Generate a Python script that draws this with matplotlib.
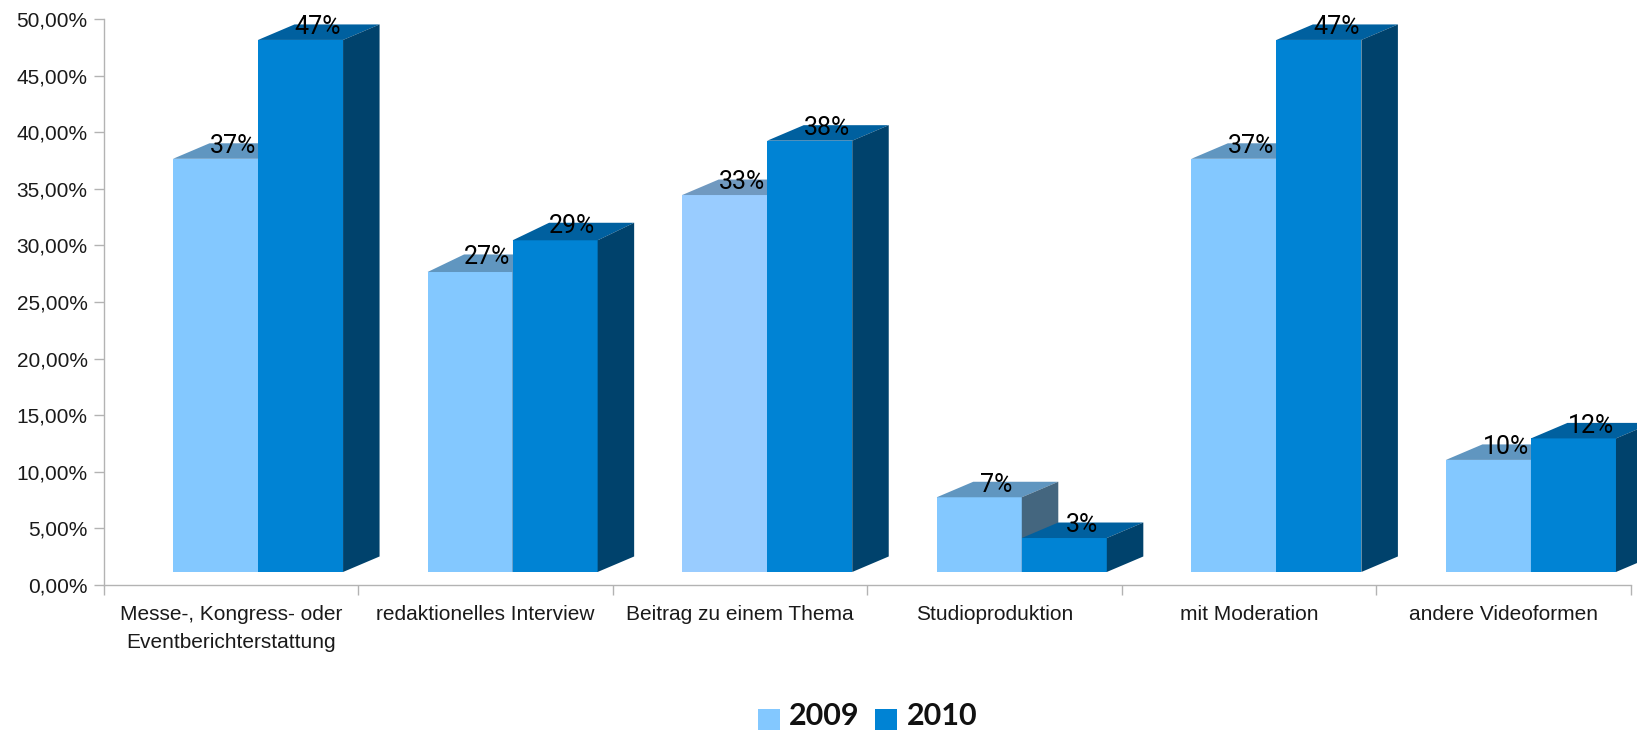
import matplotlib
matplotlib.use('Agg')
import matplotlib.pyplot as plt
from matplotlib.patches import Polygon, Rectangle

categories = ['Messe-, Kongress- oder\nEventberichterstattung', 'redaktionelles Interview',
              'Beitrag zu einem Thema', 'Studioproduktion', 'mit Moderation', 'andere Videoformen']
values_2009 = [36.5, 26.5, 33.3, 6.6, 36.5, 9.9]
values_2010 = [47.0, 29.3, 38.1, 3.0, 47.0, 11.8]
labels_2009 = ['37%', '27%', '33%', '7%', '37%', '10%']
labels_2010 = ['47%', '29%', '38%', '3%', '47%', '12%']
y_ticks = [0, 5, 10, 15, 20, 25, 30, 35, 40, 45, 50]

# the third light bar is a slightly different blue in the original
front_2009 = ['#83c8ff', '#83c8ff', '#99ccff', '#83c8ff', '#83c8ff', '#83c8ff']
top_2009 = ['#6096c0', '#6096c0', '#7099c0', '#6096c0', '#6096c0', '#6096c0']
# top faces of the second group are a bit deeper than the rest
top_depth = [1.37, 1.55, 1.37, 1.37, 1.37, 1.37]

W, H = 1637, 730
fig = plt.figure(figsize=(W / 100, H / 100), dpi=100)
ax = fig.add_axes([103.5 / W, 1 - 585 / H, (1631 - 103.5) / W, 566 / H])
ax.set_xlim(0, 6)
ax.set_ylim(0, 50)

# fake 3d look: the bars sit a bit above the axis and get a top and a side face
floor = 1.15
bar_w = 0.334
first = 0.273
dx = 0.1434
dy = 1.37


def draw_bar(x, v, d, front, top, side, z):
    y = floor + v
    ax.add_patch(Rectangle((x, floor), bar_w, v, fc=front, ec='none', zorder=z, clip_on=False))
    ax.add_patch(Polygon([(x, y), (x + dx, y + d), (x + bar_w + dx, y + d), (x + bar_w, y)],
                         fc=top, ec='none', zorder=z, clip_on=False))
    ax.add_patch(Polygon([(x + bar_w, floor), (x + bar_w + dx, floor + dy), (x + bar_w + dx, y + d), (x + bar_w, y)],
                         fc=side, ec='none', zorder=z, clip_on=False))


for i in range(len(categories)):
    x1 = i + first
    x2 = x1 + bar_w
    d = top_depth[i]
    draw_bar(x1, values_2009[i], d, front_2009[i], top_2009[i], '#44667f', 2)
    draw_bar(x2, values_2010[i], d, '#0083d4', '#00609f', '#00426c', 3)
    ax.text(x1 + bar_w / 2 + 0.068, floor + values_2009[i] + d - 0.25, labels_2009[i], family='Roboto', fontsize=18,
            ha='center', va='center', color='black', zorder=5)
    ax.text(x2 + bar_w / 2 + 0.068, floor + values_2010[i] + d - 0.25, labels_2010[i], family='Roboto', fontsize=18,
            ha='center', va='center', color='black', zorder=5)

for s in ['top', 'right']:
    ax.spines[s].set_visible(False)
for s in ['left', 'bottom']:
    ax.spines[s].set_color('#b3b3b3')
    ax.spines[s].set_linewidth(1)

ax.set_yticks(y_ticks)
ax.set_yticklabels([f'{t},00%' for t in y_ticks], family='Liberation Sans', fontsize=15, color='#1a1a1a')
ax.tick_params(axis='y', length=7, width=1, color='#b3b3b3', pad=4.5)
ax.set_xticks(range(7))
ax.set_xticklabels([])
ax.tick_params(axis='x', length=7, width=1, color='#b3b3b3')
for i, c in enumerate(categories):
    ax.text(i + 0.5, -1.8, c, family='Liberation Sans', fontsize=15, color='#1a1a1a', ha='center', va='top',
            linespacing=1.6)

# legend by hand, centred below the chart
fig.patches.append(Rectangle((758 / W, 0), 22 / W, 21 / H, fc='#83c8ff', transform=fig.transFigure))
fig.patches.append(Rectangle((875 / W, 0), 22 / W, 21 / H, fc='#0083d4', transform=fig.transFigure))
fig.text(789 / W, 1 - 716 / H, '2009', family='Lato', weight='bold', fontsize=22, va='center', color='#111111')
fig.text(907 / W, 1 - 716 / H, '2010', family='Lato', weight='bold', fontsize=22, va='center', color='#111111')

fig.savefig('out.png', dpi=100)
